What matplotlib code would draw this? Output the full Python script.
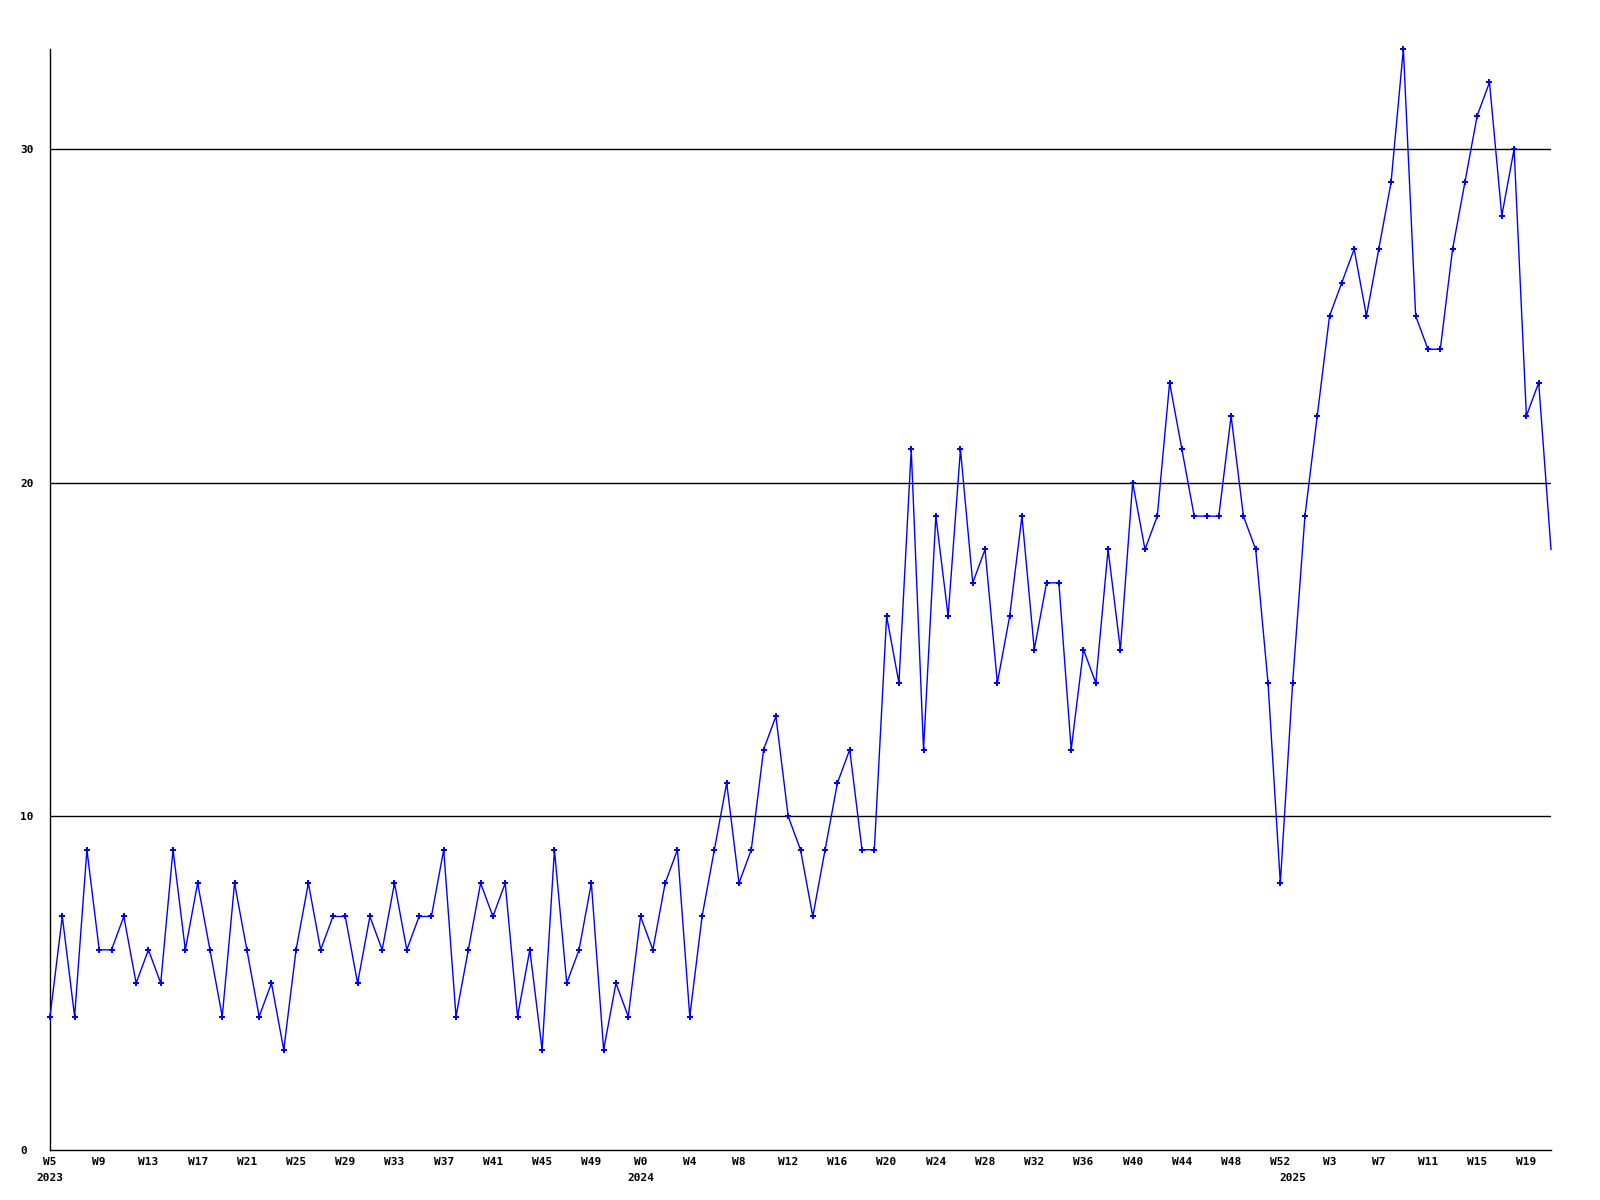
import numpy as np
import matplotlib
matplotlib.use("Agg")
import matplotlib.pyplot as plt
import matplotlib.transforms as mtransforms

# week numbers per year (x categories)
weeks_2023 = list(range(5, 53))
weeks_2024 = list(range(0, 53))
weeks_2025 = list(range(0, 22))

# weekly counts
values = [
    4, 7, 4, 9, 6, 6, 7, 5, 6, 5, 9, 6, 8, 6, 4, 8, 6, 4, 5, 3,
    6, 8, 6, 7, 7, 5, 7, 6, 8, 6, 7, 7, 9, 4, 6, 8, 7, 8, 4, 6,
    3, 9, 5, 6, 8, 3, 5, 4,
    7, 6, 8, 9, 4, 7, 9, 11, 8, 9, 12, 13, 10, 9, 7, 9, 11, 12, 9, 9,
    16, 14, 21, 12, 19, 16, 21, 17, 18, 14, 16, 19, 15, 17, 17, 12, 15, 14,
    18, 15, 20, 18, 19, 23, 21, 19, 19, 19, 22, 19, 18, 14, 8,
    14, 19, 22, 25, 26, 27, 25, 27, 29, 33, 25, 24, 24, 27, 29, 31, 32,
    28, 30, 22, 23, 18,
]

week_labels = ["W%d" % w for w in weeks_2023 + weeks_2024 + weeks_2025]
year_starts = {"2023": 0, "2024": len(weeks_2023), "2025": len(weeks_2023) + len(weeks_2024)}

x = np.arange(len(values))

fig = plt.figure(figsize=(16, 12), dpi=100)
ax = fig.add_axes([50 / 1600, 1 - 1150 / 1200, (1551 - 50) / 1600, (1150 - 49) / 1200])

font = dict(family="DejaVu Sans Mono", fontsize=8, fontweight="bold", color="black")

# horizontal grid lines
for g in [10, 20, 30]:
    ax.axhline(g, color="black", linewidth=1, zorder=1)

# last week is still running -> no marker on it
ax.plot(x, values, color="#0000ff", linewidth=1, marker="P", markersize=4,
        markeredgewidth=0, markevery=slice(0, len(values) - 1), zorder=3, clip_on=False)

ax.set_xlim(0, len(values) - 1)
ax.set_ylim(0, max(values))

for s in ["top", "right"]:
    ax.spines[s].set_visible(False)
for s in ["left", "bottom"]:
    ax.spines[s].set_linewidth(1)
    ax.spines[s].set_color("black")

# y labels are left aligned in the reference
ax.set_yticks([0, 10, 20, 30])
ax.set_yticklabels(["0", "10", "20", "30"], ha="left", **font)
ax.tick_params(axis="y", length=0, pad=21.3)

xt = x[::4]
ax.set_xticks(xt)
ax.set_xticklabels([week_labels[i] for i in xt], **font)
ax.tick_params(axis="x", length=0, pad=5)

trans = mtransforms.blended_transform_factory(ax.transData, ax.transAxes)
for yr, idx in year_starts.items():
    ax.text(idx, -0.021, yr, transform=trans, ha="center", va="top", **font)

fig.savefig("out.png", dpi=100)
